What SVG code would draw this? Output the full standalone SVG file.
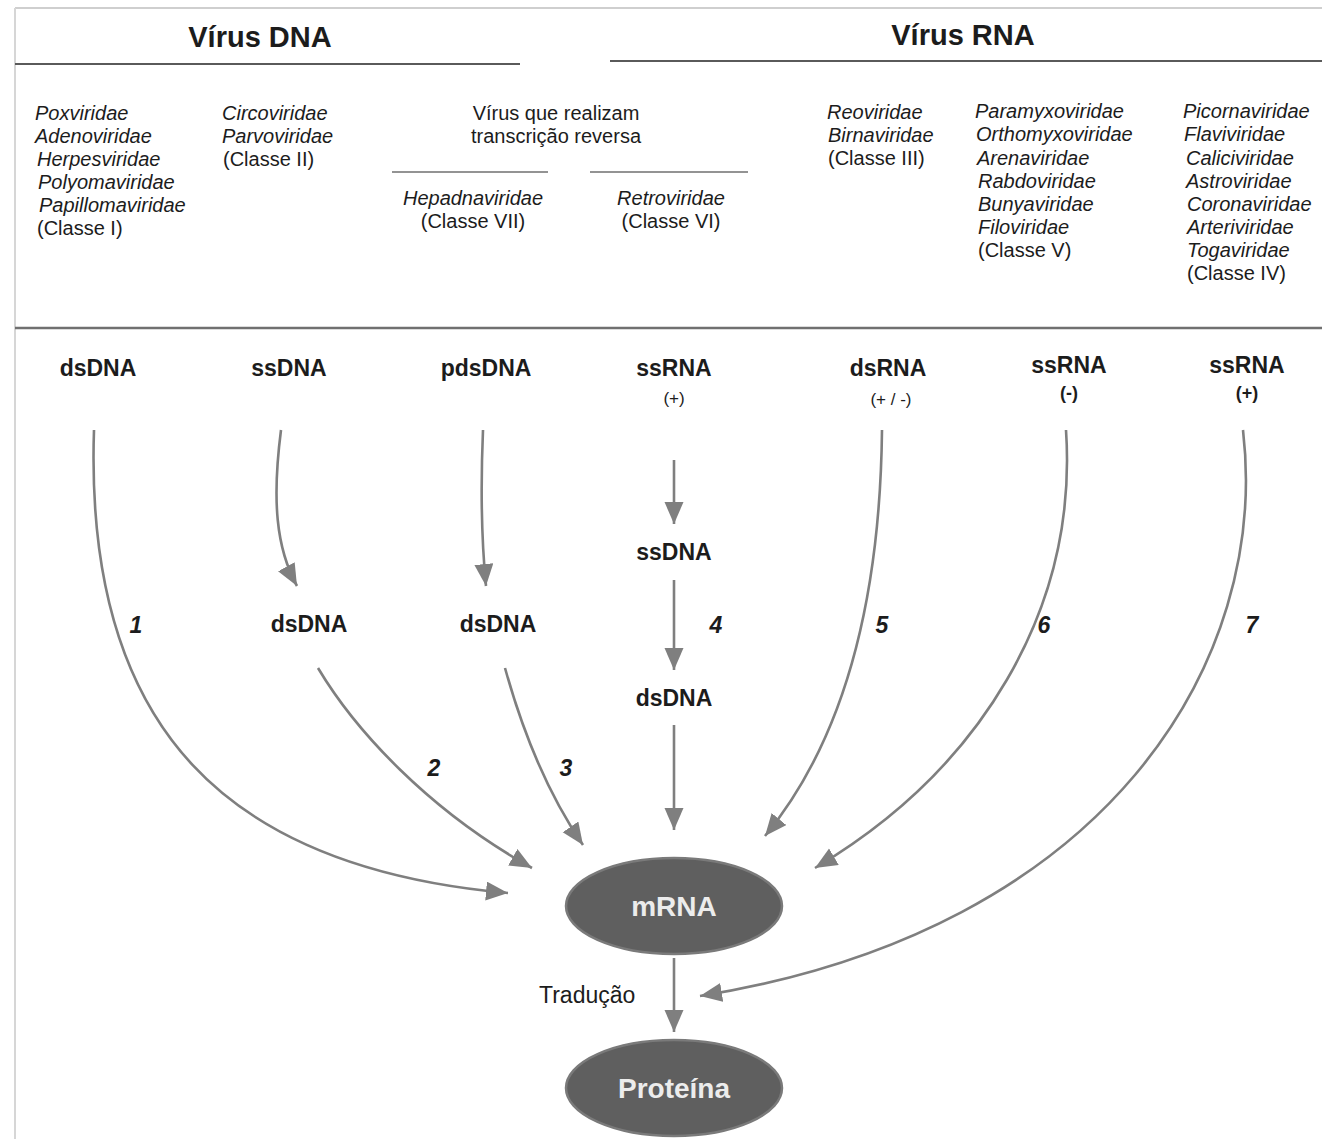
<svg xmlns="http://www.w3.org/2000/svg" width="1322" height="1139" viewBox="0 0 1322 1139">
<style>
text{font-family:"Liberation Sans",Arial,sans-serif;fill:#1c1c1c}
.h{font-size:29px;font-weight:bold;text-anchor:middle}
.it{font-size:20px;font-style:italic}
.rg{font-size:20px}
.c{text-anchor:middle}
.b{font-size:23px;font-weight:bold;text-anchor:middle}
.sm{font-size:17px;text-anchor:middle}
.smb{font-size:18px;font-weight:bold;text-anchor:middle}
.n{font-size:23px;font-weight:bold;font-style:italic;text-anchor:middle}
.w{font-size:28px;font-weight:bold;text-anchor:middle;fill:#ececec}
.rule{stroke:#5a5a5a;stroke-width:2.2;fill:none}
.sub{stroke:#6f6f6f;stroke-width:1.6;fill:none}
.arr{stroke:#7f7f7f;stroke-width:2.6;fill:none;marker-end:url(#ah)}
.oval{fill:#5f5f5f;stroke:#7a7a7a;stroke-width:2.5}
</style>
<defs>
<marker id="ah" markerUnits="userSpaceOnUse" markerWidth="24" markerHeight="20" refX="22" refY="9.5" orient="auto">
<path d="M0,0 L22,9.5 L0,19 z" fill="#7f7f7f"/>
</marker>
</defs>
<rect x="0" y="0" width="1322" height="1139" fill="#ffffff"/>
<g id="frame">
<line x1="15" y1="8" x2="1322" y2="8" stroke="#cfcfcf" stroke-width="2"/>
<line x1="15" y1="8" x2="15" y2="1139" stroke="#d6d6d6" stroke-width="2"/>
<line class="rule" x1="15" y1="64" x2="520" y2="64"/>
<line class="rule" x1="610" y1="61" x2="1322" y2="61"/>
<line class="rule" x1="15" y1="328" x2="1322" y2="328" style="stroke:#707070;stroke-width:2.6"/>
<line class="sub" x1="392" y1="172" x2="548" y2="172"/>
<line class="sub" x1="590" y1="172" x2="748" y2="172"/>
</g>
<g id="headers">
<text class="h" x="260" y="47">Vírus DNA</text>
<text class="h" x="963" y="45">Vírus RNA</text>
</g>
<g id="classI">
<text class="it" x="35" y="120">Poxviridae</text>
<text class="it" x="35" y="143">Adenoviridae</text>
<text class="it" x="37" y="166">Herpesviridae</text>
<text class="it" x="38" y="189">Polyomaviridae</text>
<text class="it" x="39" y="212">Papillomaviridae</text>
<text class="rg" x="37" y="235">(Classe I)</text>
</g>
<g id="classII">
<text class="it" x="222" y="120">Circoviridae</text>
<text class="it" x="222" y="143">Parvoviridae</text>
<text class="rg" x="223" y="166">(Classe II)</text>
</g>
<g id="rt">
<text class="rg c" x="556" y="120">Vírus que realizam</text>
<text class="rg c" x="556" y="143">transcrição reversa</text>
</g>
<g id="classVII">
<text class="it c" x="473" y="205">Hepadnaviridae</text>
<text class="rg c" x="473" y="228">(Classe VII)</text>
</g>
<g id="classVI">
<text class="it c" x="671" y="205">Retroviridae</text>
<text class="rg c" x="671" y="228">(Classe VI)</text>
</g>
<g id="classIII">
<text class="it" x="827" y="119">Reoviridae</text>
<text class="it" x="828" y="142">Birnaviridae</text>
<text class="rg" x="828" y="165">(Classe III)</text>
</g>
<g id="classV">
<text class="it" x="975" y="118">Paramyxoviridae</text>
<text class="it" x="976" y="141">Orthomyxoviridae</text>
<text class="it" x="977" y="165">Arenaviridae</text>
<text class="it" x="978" y="188">Rabdoviridae</text>
<text class="it" x="978" y="211">Bunyaviridae</text>
<text class="it" x="978" y="234">Filoviridae</text>
<text class="rg" x="978" y="257">(Classe V)</text>
</g>
<g id="classIV">
<text class="it" x="1183" y="118">Picornaviridae</text>
<text class="it" x="1184" y="141">Flaviviridae</text>
<text class="it" x="1186" y="165">Caliciviridae</text>
<text class="it" x="1186" y="188">Astroviridae</text>
<text class="it" x="1187" y="211">Coronaviridae</text>
<text class="it" x="1187" y="234">Arteriviridae</text>
<text class="it" x="1187" y="257">Togaviridae</text>
<text class="rg" x="1187" y="280">(Classe IV)</text>
</g>
<g id="n-dsDNA1"><text class="b" x="98" y="376">dsDNA</text></g>
<g id="n-ssDNA2"><text class="b" x="289" y="376">ssDNA</text></g>
<g id="n-pdsDNA"><text class="b" x="486" y="376">pdsDNA</text></g>
<g id="n-ssRNAp4"><text class="b" x="674" y="376">ssRNA</text><text class="sm" x="674" y="404">(+)</text></g>
<g id="n-dsRNA"><text class="b" x="888" y="376">dsRNA</text><text class="sm" x="891" y="405">(+ / -)</text></g>
<g id="n-ssRNAm"><text class="b" x="1069" y="373">ssRNA</text><text class="smb" x="1069" y="399">(-)</text></g>
<g id="n-ssRNAp7"><text class="b" x="1247" y="373">ssRNA</text><text class="smb" x="1247" y="399">(+)</text></g>
<g id="n-ssDNA4"><text class="b" x="674" y="560">ssDNA</text></g>
<g id="n-dsDNA2"><text class="b" x="309" y="632">dsDNA</text></g>
<g id="n-dsDNA3"><text class="b" x="498" y="632">dsDNA</text></g>
<g id="n-dsDNA4"><text class="b" x="674" y="706">dsDNA</text></g>
<g id="n-mRNA"><ellipse class="oval" cx="674" cy="906" rx="108" ry="48"/><text class="w" x="674" y="916">mRNA</text></g>
<g id="n-prot"><ellipse class="oval" cx="674" cy="1088" rx="108" ry="48"/><text class="w" x="674" y="1098">Proteína</text></g>
<g id="labels">
<text class="n" x="136" y="633">1</text>
<text class="n" x="434" y="776">2</text>
<text class="n" x="566" y="776">3</text>
<text class="n" x="716" y="633">4</text>
<text class="n" x="882" y="633">5</text>
<text class="n" x="1044" y="633">6</text>
<text class="n" x="1252" y="633">7</text>
<text class="rg" x="539" y="1003" style="font-size:23px">Tradução</text>
</g>
<g id="connectors">
<path class="arr" d="M94,430 C84,730 228,868 508,893"/>
<path class="arr" d="M281,430 C272,500 276,548 297,586"/>
<path class="arr" d="M483,430 C480,500 482,545 486,586"/>
<path class="arr" d="M318,668 C355,730 428,810 532,868"/>
<path class="arr" d="M505,668 C525,740 552,800 583,845"/>
<path class="arr" d="M674,460 L674,524"/>
<path class="arr" d="M674,580 L674,670"/>
<path class="arr" d="M674,725 L674,830"/>
<path class="arr" d="M882,430 C880,610 840,745 765,836"/>
<path class="arr" d="M1066,430 C1078,610 980,770 815,868"/>
<path class="arr" d="M1243,430 C1270,660 1110,930 700,996"/>
<path class="arr" d="M674,958 L674,1032"/>
</g>
</svg>
